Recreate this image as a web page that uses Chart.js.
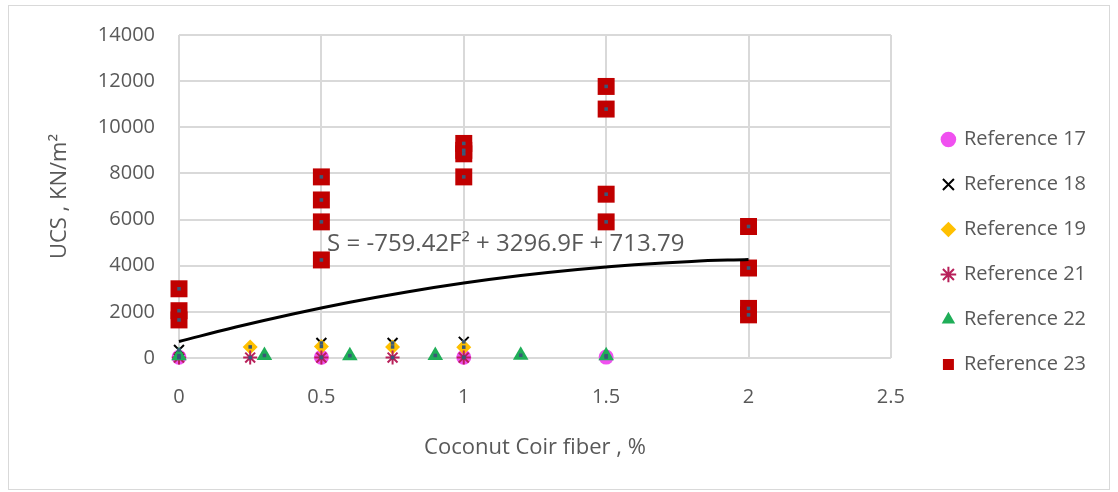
<!DOCTYPE html>
<html>
<head>
<meta charset="utf-8">
<script src="https://cdn.jsdelivr.net/npm/chart.js@4.4.1/dist/chart.umd.min.js"></script>
<style>
  html, body { margin: 0; padding: 0; background: #fff; }
  #frame { position: absolute; left: 8px; top: 5px; width: 1102px; height: 485px; border: 1px solid #d9d9d9; box-sizing: border-box; }
  canvas { display: block; }
</style>
</head>
<body>
<div id="frame"><canvas id="chart" width="1100" height="483"></canvas></div>
<script>
// values
const fiber17 = [0, 0.5, 1, 1.5];
const ucs17 = [30, 30, 30, 40];

const fiber18 = [0, 0.5, 0.75, 1];
const ucs18 = [350, 650, 650, 700];

const fiber19 = [0.25, 0.5, 0.75, 1];
const ucs19 = [480, 500, 480, 470];

const fiber21 = [0, 0.25, 0.5, 0.75, 1];
const ucs21 = [20, 20, 20, 20, 20];

const fiber22 = [0, 0.3, 0.6, 0.9, 1.2, 1.5];
const ucs22 = [100, 110, 100, 110, 120, 100];

const fiber23 = [0, 0, 0, 0.5, 0.5, 0.5, 0.5, 1, 1, 1, 1, 1.5, 1.5, 1.5, 1.5, 2, 2, 2, 2];
const ucs23 = [3000, 2050, 1650, 7850, 6850, 5900, 4250, 9300, 9000, 8850, 7850, 11770, 10790, 7100, 5900, 5700, 3900, 2150, 1870];

// polynomial trendline as drawn
const trendFiber = [0, 0.2, 0.4, 0.6, 0.8, 1.0, 1.2, 1.4, 1.6, 1.8, 2.0];
const trendUcs = [714, 1343, 1911, 2419, 2865, 3251, 3577, 3841, 4045, 4188, 4270];
const trendText = "S = -759.42F\u00B2 + 3296.9F + 713.79";

const xTicks = [0, 0.5, 1, 1.5, 2, 2.5];
const yTicks = [0, 2000, 4000, 6000, 8000, 10000, 12000, 14000];

const FONT = "'Open Sans', sans-serif";
const GREY = "#595959";

const toPoints = (xs, ys) => xs.map((x, i) => ({ x, y: ys[i] }));

const allPoints = [
  ...toPoints(fiber17, ucs17),
  ...toPoints(fiber18, ucs18),
  ...toPoints(fiber19, ucs19),
  ...toPoints(fiber21, ucs21),
  ...toPoints(fiber22, ucs22),
  ...toPoints(fiber23, ucs23),
];

const equationLabel = {
  id: "equationLabel",
  afterDatasetsDraw(chart) {
    const { ctx, scales } = chart;
    ctx.save();
    ctx.font = "24px " + FONT;
    ctx.fillStyle = GREY;
    ctx.textAlign = "left";
    ctx.textBaseline = "middle";
    ctx.fillText(trendText, scales.x.getPixelForValue(0.52), scales.y.getPixelForValue(4920));
    ctx.restore();
  },
};

// keep a gap between the plot and the legend like the original
const legendShift = {
  id: "legendShift",
  afterLayout(chart) {
    const lg = chart.legend;
    lg.left += 27;
    lg.right += 27;
    lg.top -= 10;
    lg.bottom -= 10;
  },
};

new Chart(document.getElementById("chart"), {
  type: "scatter",
  data: {
    datasets: [
      {
        label: "Reference 17",
        data: toPoints(fiber17, ucs17),
        pointStyle: "circle",
        pointRadius: 7.5,
        backgroundColor: "#F050F0",
        borderColor: "#F050F0",
        borderWidth: 0,
        order: 7,
      },
      {
        label: "Reference 18",
        data: toPoints(fiber18, ucs18),
        pointStyle: "crossRot",
        pointRadius: 7,
        backgroundColor: "#000000",
        borderColor: "#000000",
        borderWidth: 2,
        order: 6,
      },
      {
        label: "Reference 19",
        data: toPoints(fiber19, ucs19),
        pointStyle: "rectRot",
        pointRadius: 7.5,
        backgroundColor: "#FFC000",
        borderColor: "#FFC000",
        borderWidth: 0,
        order: 5,
      },
      {
        label: "Reference 21",
        data: toPoints(fiber21, ucs21),
        pointStyle: "star",
        pointRadius: 7,
        backgroundColor: "#B8205A",
        borderColor: "#B8205A",
        borderWidth: 2,
        order: 4,
      },
      {
        label: "Reference 22",
        data: toPoints(fiber22, ucs22),
        pointStyle: "triangle",
        pointRadius: 9,
        backgroundColor: "#1FAE58",
        borderColor: "#1FAE58",
        borderWidth: 0,
        order: 3,
      },
      {
        label: "Reference 23",
        data: toPoints(fiber23, ucs23),
        pointStyle: "rect",
        pointRadius: 12,
        backgroundColor: "#C00000",
        borderColor: "#C00000",
        borderWidth: 0,
        order: 2,
      },
      {
        label: "",
        type: "line",
        data: toPoints(trendFiber, trendUcs),
        showLine: true,
        borderColor: "#000000",
        borderWidth: 3,
        pointRadius: 0,
        tension: 0.4,
        fill: false,
        order: 1,
      },
      {
        label: "",
        data: allPoints,
        pointStyle: "rect",
        pointRadius: 2.5,
        backgroundColor: "#3A5878",
        borderWidth: 0,
        order: 0,
      },
    ],
  },
  options: {
    responsive: false,
    animation: false,
    devicePixelRatio: 1,
    clip: false,
    layout: { padding: { top: 29, right: 40, bottom: 0, left: 0 } },
    scales: {
      x: {
        type: "linear",
        min: 0,
        max: 2.5,
        afterBuildTicks: (scale) => { scale.ticks = xTicks.map((v) => ({ value: v })); },
        afterFit: (scale) => { scale.height = 131; },
        ticks: {
          padding: 27,
          color: GREY,
          font: { family: FONT, size: 20 },
          callback: (v) => String(v),
        },
        grid: { color: "#d9d9d9", lineWidth: 2, drawTicks: false },
        border: { display: false },
        title: {
          display: true,
          text: "Coconut Coir fiber , %",
          color: GREY,
          font: { family: FONT, size: 22 },
          padding: { top: 0, bottom: 28 },
        },
      },
      y: {
        min: 0,
        max: 14000,
        afterBuildTicks: (scale) => { scale.ticks = yTicks.map((v) => ({ value: v })); },
        afterFit: (scale) => {
          scale.width = 170;
          scale.paddingTop = 12;
          scale.paddingBottom = 12;
        },
        ticks: {
          padding: 24,
          color: GREY,
          font: { family: FONT, size: 20 },
          callback: (v) => String(v),
        },
        grid: { color: "#d9d9d9", lineWidth: 2, drawTicks: false },
        border: { display: false },
        title: {
          display: true,
          text: "UCS , KN/m\u00B2",
          color: GREY,
          font: { family: FONT, size: 22 },
          padding: { top: 38, bottom: 0 },
        },
      },
    },
    plugins: {
      tooltip: { enabled: false },
      legend: {
        position: "right",
        labels: {
          usePointStyle: true,
          boxWidth: 11,
          boxHeight: 11,
          padding: 25,
          color: GREY,
          font: { family: FONT, size: 20 },
          filter: (item) => item.text !== "",
          sort: (a, b) => a.datasetIndex - b.datasetIndex,
        },
      },
    },
  },
  plugins: [equationLabel, legendShift],
});
</script>
</body>
</html>
